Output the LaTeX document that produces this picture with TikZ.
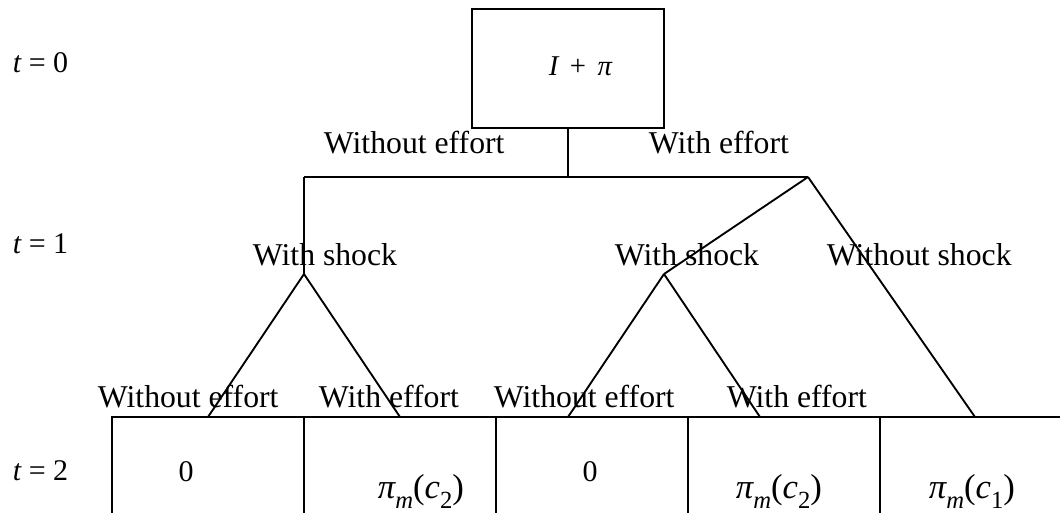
\documentclass[tikz,border=0pt]{standalone}
\usepackage{fontspec}
\setmainfont{Liberation Serif}
\newcommand\pim[1]{{\fontsize{26}{30}\selectfont\itshape π\raisebox{-0.3em}{\fontsize{18.5}{20}\selectfont m}\upshape(\itshape c\raisebox{-0.3em}{\upshape\fontsize{18.5}{20}\selectfont #1}\upshape)}}
\newcommand\tlab[1]{{\fontsize{22.5}{26}\selectfont\itshape t\upshape\ =\ #1}}
\begin{document}
\begin{tikzpicture}[x=0.75pt,y=-0.75pt,line width=1.4pt,
  lbl/.style={anchor=base west,inner sep=0pt,font=\fontsize{23.8}{28}\selectfont},
  val/.style={anchor=base west,inner sep=0pt},
  leafbox/.style={draw,rectangle,inner sep=0pt,outer sep=0pt,minimum width=144pt,minimum height=90pt,anchor=north west}]
\clip (0,0) rectangle (1060,512);
% root box
\node[draw,rectangle,inner sep=0pt,outer sep=0pt,minimum width=144pt,minimum height=89.25pt,anchor=north west] (root) at (472,9) {};
\node[val,font=\fontsize{21.5}{26}\selectfont] (rootv) at (548,75) {\itshape I\upshape\hspace{0.4em}+\hspace{0.4em}\itshape π};
% junctions
\coordinate (jl) at (304,177);
\coordinate (jr) at (808,177);
\coordinate (s1) at (304,274);
\coordinate (s2) at (664,274);
% leaf boxes
\node[leafbox] (b1) at (112,417) {};
\node[leafbox] (b2) at (304,417) {};
\node[leafbox] (b3) at (496,417) {};
\node[leafbox] (b4) at (688,417) {};
\node[leafbox,minimum width=150pt] (b5) at (880,417) {};
\coordinate (l1) at (208,417);
\coordinate (l2) at (400,417);
\coordinate (l3) at (568,417);
\coordinate (l4) at (760,417);
\coordinate (l5) at (975,417);
% connectors
\draw (root.south) -- (root.south |- jl);
\draw (jl) -- (jr);
\draw (jl) -- (s1);
\draw (jr) -- (s2);
\draw (jr) -- (l5);
\draw (s1) -- (l1);
\draw (s1) -- (l2);
\draw (s2) -- (l3);
\draw (s2) -- (l4);
% time labels
\node[val] (t0) at (12,72) {\tlab{0}};
\node[val] (t1) at (12,253) {\tlab{1}};
\node[val] (t2) at (12,480) {\tlab{2}};
% branch labels
\node[lbl] (we0) at (323,153) {Without effort};
\node[lbl] (e0) at (648,153) {With effort};
\node[lbl] (ws1) at (252,265) {With shock};
\node[lbl] (ws2) at (614,265) {With shock};
\node[lbl] (ns) at (826,265) {Without shock};
\node[lbl] (we1) at (97,407) {Without effort};
\node[lbl] (e1) at (318,407) {With effort};
\node[lbl] (we2) at (493,407) {Without effort};
\node[lbl] (e2) at (726,407) {With effort};
% values
\node[val,font=\fontsize{22.5}{26}\selectfont,anchor=base] (v1) at (186,481) {0};
\node[val] (v2) at (377,498) {\pim{2}};
\node[val,font=\fontsize{22.5}{26}\selectfont,anchor=base] (v3) at (590,481) {0};
\node[val] (v4) at (735,498) {\pim{2}};
\node[val] (v5) at (928,498) {\pim{1}};
\end{tikzpicture}
\end{document}
